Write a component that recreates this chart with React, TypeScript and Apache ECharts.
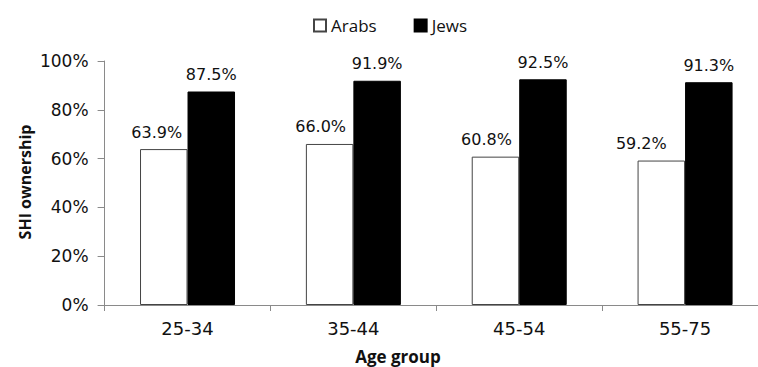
import React, { useEffect, useRef } from "react";
import * as echarts from "echarts";

const categories = ["25-34", "35-44", "45-54", "55-75"];
const arabs = [63.9, 66.0, 60.8, 59.2];
const jews = [87.5, 91.9, 92.5, 91.3];
const yTicks = [0, 20, 40, 60, 80, 100];

const arabLabelShift = [-7, -9, -9, -20];

export default function App() {
  const ref = useRef<HTMLDivElement>(null);
  useEffect(() => {
    if (!ref.current) return;
    const chart = echarts.init(ref.current, null, { renderer: "svg" });
    const labelFont = { fontFamily: "DejaVu Sans", fontSize: 16, color: "#111" };
    chart.setOption({
      animation: false,
      backgroundColor: "#fff",
      legend: {
        left: 308,
        top: 12,
        itemWidth: 12,
        itemHeight: 12,
        itemGap: 37,
        icon: "rect",
        textStyle: { fontFamily: "Open Sans", fontSize: 17, color: "#111" },
        data: ["Arabs", "Jews"],
      },
      grid: { left: 104.6, right: 2, top: 61, bottom: 62, containLabel: false },
      xAxis: {
        type: "category",
        data: categories,
        axisLine: { lineStyle: { color: "#8a8a8a", width: 1 } },
        axisTick: { show: true, length: 6, lineStyle: { color: "#8a8a8a" } },
        axisLabel: { fontFamily: "DejaVu Sans", fontSize: 18, color: "#111", margin: 14 },
      },
      yAxis: {
        type: "value",
        min: 0,
        max: 100,
        interval: 20,
        splitLine: { show: false },
        axisLine: { show: true, lineStyle: { color: "#8a8a8a", width: 1 } },
        axisTick: { show: true, length: 7, lineStyle: { color: "#8a8a8a" } },
        axisLabel: {
          fontFamily: "DejaVu Sans",
          fontSize: 17,
          color: "#111",
          margin: 16,
          formatter: (v: number) => (yTicks.includes(v) ? v + "%" : ""),
        },
      },
      series: [
        {
          name: "Arabs",
          type: "bar",
          barWidth: 47.5,
          barGap: "0%",
          itemStyle: { color: "#fff", borderColor: "#444", borderWidth: 1 },
          data: arabs.map((v, i) => ({
            value: v,
            label: { offset: [arabLabelShift[i], 0] },
          })),
          label: {
            show: true,
            position: "top",
            distance: 9,
            ...labelFont,
            formatter: (p: any) => p.value.toFixed(1) + "%",
          },
        },
        {
          name: "Jews",
          type: "bar",
          barWidth: 47.5,
          itemStyle: { color: "#000", borderColor: "#000", borderWidth: 1 },
          data: jews,
          label: {
            show: true,
            position: "top",
            distance: 9,
            ...labelFont,
            formatter: (p: any) => p.value.toFixed(1) + "%",
          },
        },
      ],
      graphic: [
        {
          type: "text",
          x: 398,
          y: 356,
          style: {
            text: "Age group",
            fontFamily: "Open Sans",
            fontWeight: "bold",
            fontSize: 17,
            fill: "#111",
            align: "center",
            verticalAlign: "middle",
          },
        },
        {
          type: "text",
          x: 25,
          y: 182,
          rotation: Math.PI / 2,
          style: {
            text: "SHI ownership",
            fontFamily: "Open Sans",
            fontWeight: "bold",
            fontSize: 16,
            fill: "#111",
            align: "center",
            verticalAlign: "middle",
          },
        },
      ],
    });
    return () => chart.dispose();
  }, []);
  return (
    <div style={{ position: "absolute", left: 0, top: 0, width: 758, height: 367, overflow: "hidden" }}>
      <div ref={ref} style={{ width: 770, height: 367 }} />
    </div>
  );
}
